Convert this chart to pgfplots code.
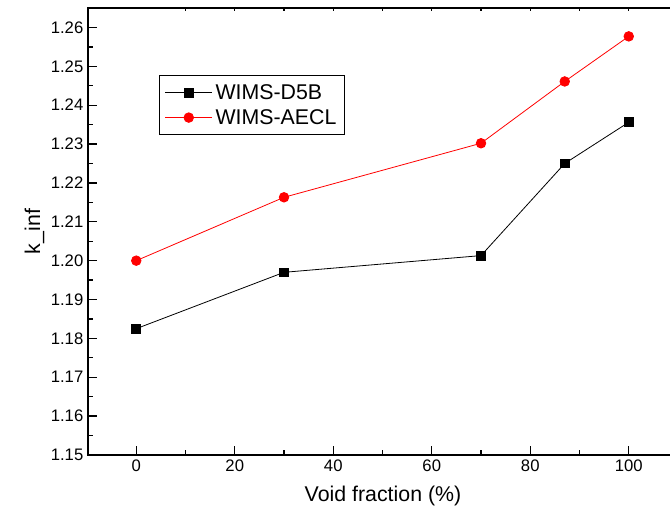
\documentclass[border=0pt]{standalone}
\usepackage{pgfplots}
\pgfplotsset{compat=1.18}
\usepackage{fontspec}
\setmainfont{Liberation Sans}
\begin{document}
\begin{tikzpicture}
\begin{axis}[
  at={(0,0)}, anchor=south west,
  scale only axis,
  width=442.5pt, height=335.25pt,
  xmin=-9.8, xmax=110, ymin=1.15, ymax=1.265,
  xtick={0,20,40,60,80,100},
  minor xtick={-10,10,30,50,70,90,110},
  ytick={1.15,1.16,...,1.261},
  minor ytick={1.155,1.165,...,1.26},
  ytick pos=left,
  xtick pos=bottom,
  extra x ticks={10,20,...,100},
  extra x tick labels={},
  extra x tick style={xtick pos=top, major tick length=2.5pt},
  yticklabel style={/pgf/number format/.cd,fixed,fixed zerofill,precision=2},
  /pgf/number format/assume math mode=true,
  tick align=inside,
  major tick length=7pt, minor tick length=3.8pt,
  every tick/.style={black, line width=1pt},
  axis line style={line width=1.3pt},
  tick label style={font=\fontsize{12.5}{15}\selectfont},
  label style={font=\fontsize{16}{18}\selectfont},
  xlabel={Void fraction (\%)},
  ylabel={k\_inf},
  xlabel style={yshift=-4pt},
  ylabel style={yshift=-2pt},
  legend style={at={(0.12,0.85)}, anchor=north west, draw=black, line width=0.8pt,
    font=\fontsize{16}{18}\selectfont, inner xsep=4pt, inner ysep=4.5pt, row sep=2pt,
    /tikz/every even column/.append style={column sep=8pt}},
  legend cell align=left,
  legend image code/.code={
    \draw[#1] (0cm,0cm) -- (1.25cm,0cm);
    \draw[#1, only marks] plot coordinates {(0.625cm,0cm)};
  },
]
\addplot[black, line width=0.6pt, mark=square*, mark size=3.3pt, mark options={solid, fill=black, draw=black}]
  coordinates {(0,1.1825) (30,1.1970) (70,1.2013) (87,1.2250) (100,1.2356)};
\addlegendentry{WIMS-D5B}
\addplot[red, line width=0.6pt, mark=*, mark size=3.6pt, mark options={solid, fill=red, draw=red}]
  coordinates {(0,1.2000) (30,1.2163) (70,1.2302) (87,1.2461) (100,1.2577)};
\addlegendentry{WIMS-AECL}
\end{axis}
\pgfresetboundingbox
\path[use as bounding box] (-66pt,-52.5pt) rectangle (436.5pt,341.25pt);
\end{tikzpicture}
\end{document}
